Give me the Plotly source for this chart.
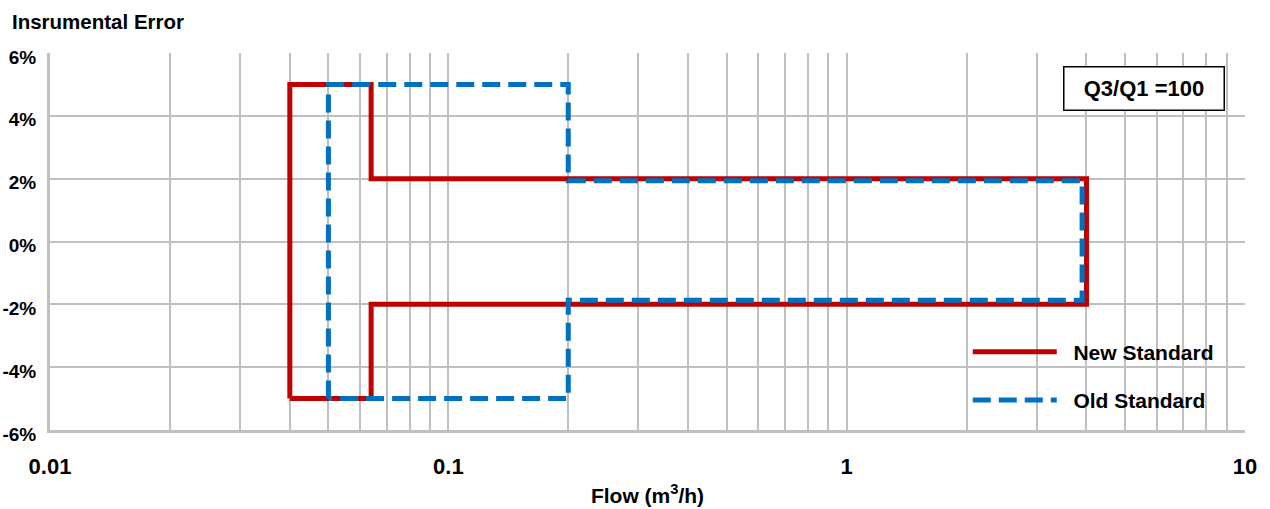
import plotly.graph_objects as go

# Data
new_flow = [0.04, 0.04, 0.064, 0.064, 4.0, 4.0, 0.064, 0.064, 0.04]
new_err = [-5, 5, 5, 2, 2, -2, -2, -5, -5]
old_flow = [0.05, 0.05, 0.2, 0.2, 3.9, 3.9, 0.2, 0.2, 0.05]
old_err = [-5, 5, 5, 1.93, 1.93, -1.87, -1.87, -5, -5]

x_tickvals = [0.01, 0.1, 1, 10]
x_ticktext = ["0.01", "0.1", "1", "10"]
y_tickvals = [-6, -4, -2, 0, 2, 4, 6]
y_ticktext = ["-6%", "-4%", "-2%", "0%", "2%", "4%", "6%"]

FONT = "Liberation Sans"
GRID = "#BFBFBF"

fig = go.Figure()
fig.add_trace(go.Scatter(
    x=new_flow, y=new_err, mode="lines", name="\u00a0\u00a0New Standard",
    line=dict(color="#C00000", width=5), legendgroup="a"))
fig.add_trace(go.Scatter(
    x=old_flow, y=old_err, mode="lines", name="\u00a0\u00a0Old Standard",
    line=dict(color="#0070C0", width=5, dash="18px,8px"), legendgroup="b"))

fig.update_layout(
    width=1270, height=509,
    margin=dict(l=50, r=25, t=53, b=79),
    paper_bgcolor="white", plot_bgcolor="white",
    font=dict(family=FONT, size=21, color="black", weight="bold"),
    showlegend=True,
    legend=dict(x=0.768, y=0.261, xanchor="left", yanchor="top",
                bgcolor="rgba(0,0,0,0)", itemwidth=84, tracegroupgap=18,
                font=dict(size=21, family=FONT, weight="bold")),
    annotations=[
        dict(text="Insrumental Error", xref="paper", yref="paper",
             x=-40/1195, y=1 + 31/377, xanchor="left", yanchor="middle",
             showarrow=False, font=dict(size=20.5, family=FONT, weight="bold")),
        dict(text="Q3/Q1 =100", xref="paper", yref="paper",
             x=(1144-50)/1195, y=(430-89)/377, xanchor="center", yanchor="middle",
             showarrow=False, width=157, height=40, bordercolor="black",
             borderwidth=1.5, bgcolor="white",
             font=dict(size=22, family=FONT, weight="bold")),
    ],
)

fig.update_xaxes(
    type="log", range=[-2, 1], automargin=False,
    tickvals=x_tickvals, ticktext=x_ticktext,
    showgrid=True, gridcolor=GRID, gridwidth=2,
    minor=dict(dtick="D1", showgrid=True, gridcolor=GRID, gridwidth=2),
    showline=True, linecolor=GRID, linewidth=3,
    ticks="", ticklabelstandoff=15,
    tickfont=dict(size=22, family=FONT, weight="bold"),
    title=dict(text="Flow (m<sup>3</sup>/h)", standoff=10,
               font=dict(size=21, family=FONT, weight="bold")),
    zeroline=False,
)
fig.update_yaxes(
    range=[-6, 6], automargin=False,
    tickvals=y_tickvals, ticktext=y_ticktext,
    showgrid=True, gridcolor=GRID, gridwidth=2,
    showline=True, linecolor=GRID, linewidth=3,
    ticks="", ticklabelstandoff=7, ticklabelshift=4,
    tickfont=dict(size=19, family=FONT, weight="bold"),
    zeroline=False,
)

fig.write_html("out.html")
